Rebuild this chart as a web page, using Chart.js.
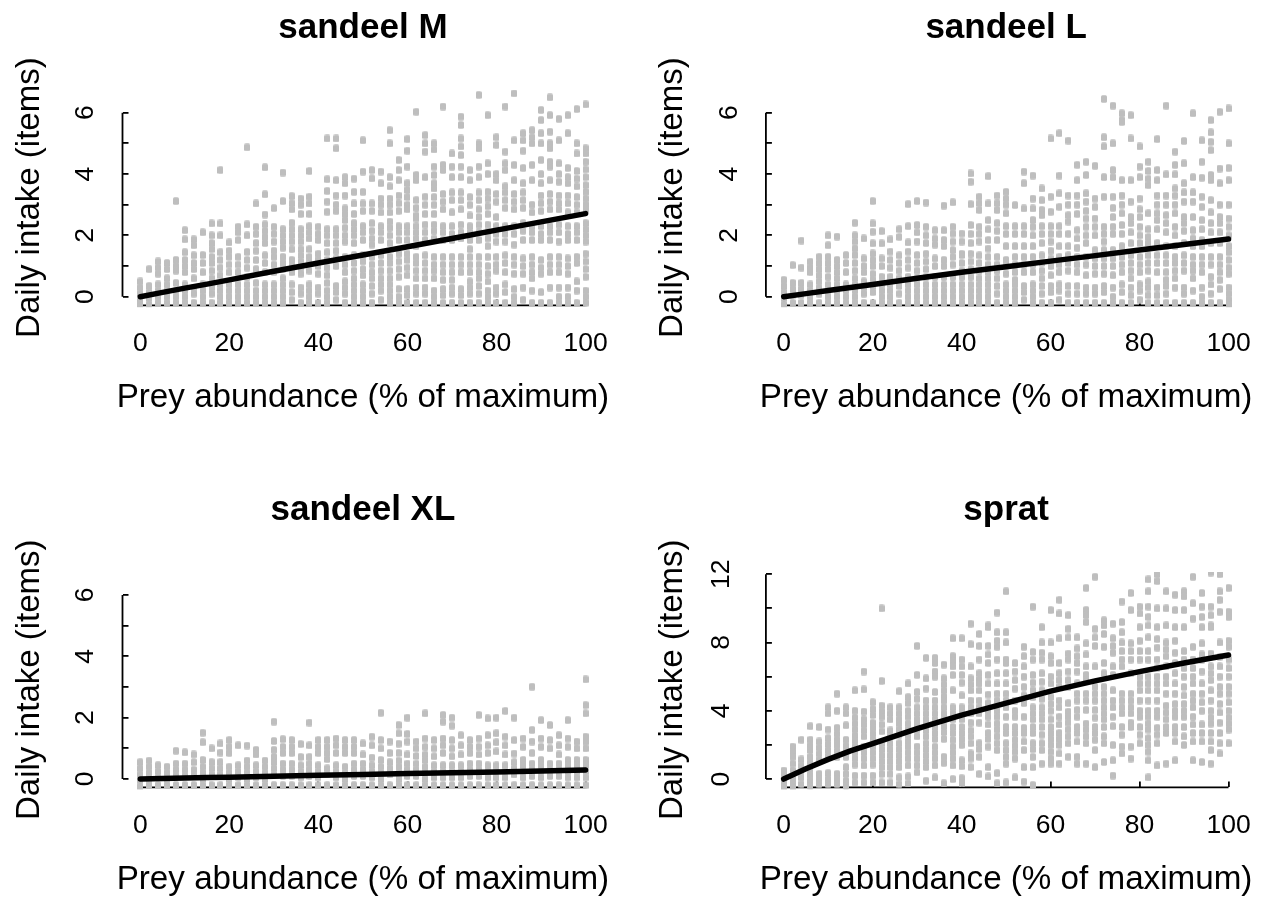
<!DOCTYPE html>
<html><head><meta charset="utf-8">
<style>html,body{margin:0;padding:0;background:#fff;width:1265px;height:897px;overflow:hidden}canvas{position:absolute}</style>
<script src="https://cdn.jsdelivr.net/npm/chart.js@4/dist/chart.umd.min.js"></script>
</head><body>
<canvas id="c0" width="640" height="415" style="left:0;top:0"></canvas>
<canvas id="c1" width="640" height="415" style="left:643px;top:0"></canvas>
<canvas id="c2" width="640" height="415" style="left:0;top:482px"></canvas>
<canvas id="c3" width="640" height="415" style="left:643px;top:482px"></canvas>
<script>
const titles=["sandeel M","sandeel L","sandeel XL","sprat"];
const xLabel="Prey abundance (% of maximum)";
const yLabel="Daily intake (items)";
const xTicks=[0,20,40,60,80,100];
const sandeelTicks=[0,1,2,3,4,5,6];
const sandeelLabels=[0,2,4,6];
const spratTicks=[0,2,4,6,8,10,12];
const spratLabels=[0,4,8,12];
const columnX=[0,2,4,6,8,10,12,14,16,18,20,22,24,26,28,30,32,34,36,38,40,42,44,46,48,50,52,54,56,58,60,62,64,66,68,70,72,74,76,78,80,82,84,86,88,90,92,94,96,98,100];
const curveX=[0,5,10,15,20,30,40,50,60,70,80,90,100];
const curveM=[0,.14,.28,.41,.55,.83,1.1,1.36,1.63,1.9,2.17,2.44,2.71];
const curveL=[0,.1,.2,.3,.4,.6,.8,.98,1.16,1.34,1.52,1.7,1.88];
const curveXL=[0,.015,.03,.045,.06,.09,.12,.15,.18,.2,.23,.26,.29];
const curveSprat=[0,.6,1.15,1.65,2.08,2.95,3.75,4.45,5.15,5.75,6.29,6.8,7.27];
const pointsM=[
[.5,.3,.1,-.1,-.25],[.9,.35,.15,-.05,-.25],[1.15,.95,.75,.4,.2,0,-.2],[1.1,.9,.6,.4,.2,0,-.2],[3.12,1.2,1,.85,.45,.2,0,-.2],
[2.17,1.87,1.45,1.2,1,.8,.4,.2,0,-.2],[1.87,1.68,1.35,1.1,.9,.6,.3,.1,-.2],[2.1,1.36,1.1,.8,.4,.2,0,-.2],[2.39,2,1.75,1.55,1.3,1.1,.85,.6,.3,.1,-.2],[4.13,2.39,2,1.45,1.2,.95,.7,.4,.2,0,-.2],
[1.77,1.5,1.3,1.05,.8,.4,.2,0,-.2],[2.28,2.1,1.85,1.3,1.05,.8,.4,.2,0,-.2],[4.87,2.36,2,1.46,1.2,.95,.65,.4,.2,0,-.2],[3.04,2.28,2.05,1.75,1.5,1.2,.9,.45,.2,0,-.2],[4.22,3.34,2.68,2.36,2.15,1.95,1.75,1.35,1.1,.8,.4,.2,0,-.2],
[2.89,2.28,2.05,1.8,1.5,1.3,1.05,.8,.4,.2,0,-.2],[4.05,3.12,2.2,2,1.8,1.6,1.3,1.1,.9,.6,.4,.2,0,-.2],[3.28,3.05,2.85,2.41,2.2,2,1.8,1.55,1.2,1,.8,.4,.15,-.1],[3.2,3,2.7,2.2,2,1.8,1.55,1.35,1.15,.95,.75,.3,.1,-.2],[4.1,3.26,3.04,2.7,2.3,2.1,1.9,1.55,1.3,1.1,.85,.4,.2,0,-.2],
[2.28,2.05,1.85,1.4,1.2,1,.75,.3,.1,-.2],[5.16,3.83,3.45,3.1,2.77,2.2,2,1.75,1.45,1.2,.95,.7,.45,.2,0,-.2],[5.16,4.84,3.8,3.3,3,2.8,2.2,2,1.75,1.5,1.25,1,.35,.15,-.1],[3.9,3.7,3.3,2.88,2.7,2.5,2.25,2,1.8,1.3,1.05,.8,.5,.3,.1,-.2],[3.85,3.42,3.04,2.7,2.4,2.2,2,1.75,1.35,1.1,.85,.6,.4,.2,0,-.2],
[5.1,4.08,3.42,3.04,2.8,2.3,2.1,1.85,1.35,1.15,.9,.7,.4,.2,0,-.2],[4.13,3.86,3.04,2.8,2.4,2.15,1.9,1.7,1.3,1.05,.8,.6,.35,.1,-.2],[4.08,3.7,3.2,3,2.75,2.3,2.1,1.85,1.35,1.1,.85,.6,.4,.2,-.1],[5.43,5,3.9,3.6,3.2,3,2.75,2.45,2.25,2,1.75,1.3,1.1,.85,.6,.4,.2,0,-.2],[4.46,4.13,3.8,3.3,3.05,2.8,2.3,2.1,1.85,1.4,1.15,.9,.65,.25,0,-.2],
[5.14,4.76,4.24,3.7,3.48,3.25,3,2.85,2.3,2.1,1.85,1.4,1.2,.95,.7,.25,.05,-.2],[6.03,3.97,3.8,3.15,2.9,2.65,2.55,2.3,2.1,1.9,1.65,1.3,1.1,.85,.6,.3,.1,-.2],[5.27,5,4.73,3.9,3.26,3,2.7,2.35,2.1,1.85,1.35,1.1,.85,.6,.3,.1,-.2],[5,4.8,4.24,3.97,3.7,3.53,3.25,3,2.7,2.35,2.15,1.9,1.3,1.05,.85,.6,.2,0,-.2],[6.2,4.3,4.13,3.35,3.1,2.85,2.3,2.1,1.85,1.3,1.05,.8,.55,.25,.05,-.2],
[4.67,4.24,3.9,3.4,3.15,2.75,2.3,2.05,1.85,1.3,1.05,.8,.55,.3,.1,-.2],[5.87,5.6,5.16,4.9,4.62,4.24,3.9,3.4,3.15,2.85,2.35,2.1,1.9,1.3,1.05,.8,.25,.05,-.2],[4.13,3.8,3.25,3,2.65,2.3,2.1,1.85,1.55,1.3,1.05,.8,.5,.3,.1,-.2],[6.58,5,4.84,4.24,3.9,3.4,3.15,2.85,2.6,2.35,2.1,1.85,1.3,1.05,.8,.6,.35,.1,-.2],[5.92,4.35,4,3.42,3.2,2.95,2.7,2.35,2.1,1.9,1.65,1.3,1,.75,.5,.2,0,-.2],
[5.2,4.95,4,3.8,3.35,3.1,2.6,2.3,2.05,1.8,1.3,1.05,.85,.3,.1,-.2],[6.2,4.73,4.35,4.13,3.6,3.4,3.15,2.9,2.3,2.05,1.8,1.35,1.1,.8,.4,.15,-.2],[6.63,5.1,4.3,3.8,3.35,3.1,2.85,2.3,2.05,1.7,1.3,1.05,.75,.25,0,-.2],[5.33,5.1,4.76,4.2,3.7,3.4,3.15,2.9,2.4,2.15,1.85,1.25,1,.75,.3,-.1],[5.43,5.2,5,4.3,3.8,3,2.75,2.3,2.1,1.85,1.3,1.05,.8,.6,.2,-.2],
[6.09,5.76,5.33,5,4.46,4,3.7,3.3,3.05,2.8,2.3,2.05,1.85,1.2,.95,.75,.15,-.2],[6.5,5.92,5.38,5,4.84,4.4,4.24,3.8,3.35,3.1,2.85,2.3,2.1,1.85,1.3,1.05,.8,.3,-.2],[5.8,5.1,4.35,4,3.75,3.3,3.05,2.85,2.35,2.1,1.8,1.3,1.05,.8,.3,0,-.2],[5.92,5.33,4.2,3.9,3.7,3.3,3.05,2.75,2.3,2.05,1.85,1.25,1,.75,.3,0,-.2],[6.12,5,4.67,4.1,3.85,3.6,3.25,3,2.75,2.3,2.1,1.85,1.3,1.1,.5,.2,-.2],
[6.27,4.84,4.67,4.4,4.15,3.9,3.64,3.42,3.2,3,2.83,2.4,2.2,2,1.8,1.4,1.15,.9,.65,.2,0,-.2]];
const pointsL=[
[.55,.35,.15,-.05,-.25],[1.03,.45,.25,.05,-.2],[1.83,.95,.45,.25,.05,-.2],[1.14,.95,.8,.4,.2,0,-.2],[1.3,1.1,.9,.7,.5,.3,.1,-.2],
[2,1.68,1.3,1.1,.9,.65,.4,.2,0,-.2],[1.96,1.2,1,.8,.6,.4,.2,0,-.2],[1.36,1.1,.8,.4,.2,0,-.2],[2.41,2,1.8,1.57,1.36,1.1,.85,.6,.4,.2,0,-.2],[1.9,1.25,1,.8,.5,.3,.1,-.2],
[3.12,2.39,2.12,1.74,1.41,1.2,1,.75,.55,.35,.15,-.2],[2.14,1.74,1.25,1,.65,.4,.2,0,-.2],[1.87,1.47,1.2,.95,.65,.4,.2,0,-.2],[2.2,1.95,1.35,1.1,.85,.6,.35,.1,-.2],[3.02,2.3,1.77,1.47,1.2,.95,.65,.4,.2,0,-.2],
[3.12,2.34,2.1,1.8,1.36,1.1,.85,.6,.4,.2,0,-.2],[3.07,2.28,2,1.75,1.4,1.15,.9,.65,.4,.2,0,-.2],[2.17,1.9,1.7,1.25,1,.65,.4,.2,0,-.2],[2.97,2.17,1.85,1.65,1.2,1,.65,.4,.2,0,-.2],[3.08,2.28,2.06,1.8,1.52,1.3,1.05,.65,.4,.2,0,-.2],
[2.06,1.8,1.4,1.36,1.1,.85,.65,.4,.2,0,-.2],[4.02,3.75,3.02,2.34,2.05,1.75,1.4,1.15,.9,.65,.4,.2,0,-.2],[3.26,3.05,2.83,2.28,2.05,1.8,1.35,1.1,.85,.6,.4,.2,0,-.2],[3.93,3.04,2.5,2.2,1.85,1.57,1.3,1.05,.8,.6,.4,.2,0,-.2],[3.3,3.05,2.83,2.4,2.15,1.85,1.3,1.05,.85,.6,.35,.1,-.2],
[3.42,3.2,3,2.72,2.3,2.05,1.65,1.2,1,.75,.4,.2,0,-.2],[2.99,2.3,2.05,1.65,1.3,1.05,.8,.55,.4,.2,0,-.2],[4.08,3.7,2.88,2.3,2.05,1.65,1.3,1.05,.8,.35,.15,-.1],[3.95,3.2,2.88,2.5,2.28,2,1.65,1.3,1.05,.8,.4,.2,0,-.2],[3.53,3.15,2.83,2.66,2.3,2.05,1.75,1.35,1.1,.85,.6,.35,.1,-.2],
[5.16,3.26,2.77,2.3,2.05,1.8,1.5,1.25,1,.7,.35,.15,-.2],[5.33,3.95,3.37,2.93,2.3,2.05,1.65,1.3,1.05,.8,.4,.2,-.1],[5.09,3.3,3,2.66,2.45,2.05,1.65,1.35,1.1,.85,.35,.1,-.2],[4.3,3.8,3.3,3,2.7,2.17,1.9,1.6,1.3,1.05,.8,.35,.1,-.2],[4.4,3.97,3.37,3.1,2.8,2.55,2.28,2,1.75,1.3,1.05,.7,.3,.1,-.2],
[4.27,3.2,2.93,2.55,2.28,2,1.52,1.25,1,.75,.3,.1,-.2],[6.45,5.2,4.9,3.9,3.26,2.28,2.05,1.8,1.52,1.25,1,.75,.35,.15,-.2],[6.23,5,4.13,3.9,3.26,2.9,2.6,2.28,2.05,1.52,1.25,1,.7,.3,0,-.2],[5.98,5.76,5.7,3.8,3.3,3,2.72,2.34,2.05,1.65,1.3,1.05,.8,.4,.15,-.2],[5.92,5.16,3.8,3.1,2.6,2.4,2.1,1.75,1.35,1.1,.85,.6,.3,.05,-.2],
[4.9,4.24,3.9,3.2,2.85,2.6,2.28,2,1.75,1.3,1.05,.8,.4,.2,-.1],[4.4,4.1,3.85,3.64,2.72,2.2,1.95,1.75,1.35,1.1,.85,.5,.3,.05,-.2],[5.14,4.13,3.8,3.3,3,2.72,2.5,2.2,1.75,1.35,1.1,.8,.3,.05,-.2],[6.23,3.99,3.3,3,2.66,2.4,2.1,1.65,1.35,1.1,.8,.55,.35,.1,-.2],[4.73,4.3,3.99,3.53,3.3,3,2.72,2.28,2,1.65,1.3,1.1,.85,.6,.3,-.2],
[5.08,4.35,3.7,3.4,3.1,2.6,2.4,2.15,1.75,1.35,1.1,.85,.3,.1,-.2],[5.98,3.9,3.4,3.1,2.6,2.17,1.9,1.65,1.3,1.05,.85,.6,.2,-.2],[5.1,4.4,3.88,3.26,2.93,2.5,2.2,1.85,1.65,1.3,1.05,.8,.3,0,-.2],[5.76,5.36,5.05,4.78,3.97,3.8,3.15,2.75,2.4,2.1,1.75,1.3,1.05,.65,.4,.1,-.2],[6.03,4.18,3.7,3,2.6,2.4,2.1,1.75,1.3,1.05,.8,.55,.25,-.2],
[6.14,5,4.2,3.8,3,2.55,2.28,2,1.65,1.45,1.2,.95,.75,.3,.1,-.1,-.25]];
const pointsXL=[
[.55,.35,.15,-.05,-.25],[.6,.4,.2,0,-.2],[.45,.25,.05,-.2],[.4,.2,0,-.2],[.92,.5,.3,.1,-.2],
[.87,.5,.3,.1,-.2],[.8,.55,.3,.1,-.2],[1.51,1.2,.62,.4,.2,0,-.2],[1,.55,.35,.15,-.2],[1.16,.86,.55,.35,.15,-.2],
[1.27,1.05,.85,.4,.2,0,-.2],[1.1,.45,.25,.05,-.2],[1.09,.6,.4,.2,0,-.2],[.95,.8,.45,.25,.05,-.2],[.6,.4,.2,0,-.2],
[1.87,1.24,.95,.72,.55,.35,.15,-.2],[1.3,1.05,.85,.5,.3,.1,-.2],[1.27,1.05,.85,.5,.3,.1,-.2],[1.14,.72,.45,.25,.05,-.2],[1.84,1.1,.72,.5,.3,.1,-.2],
[1.27,1.05,.85,.45,.25,.05,-.2],[1.27,1.05,.85,.65,.35,.15,-.2],[1.32,1.1,.85,.45,.25,.05,-.2],[1.27,1.05,.85,.4,.2,0,-.2],[1.27,1.05,.85,.5,.3,.1,-.2],
[1.16,.8,.5,.3,.1,-.2],[1.38,1.1,.7,.45,.25,.05,-.2],[2.16,1.27,1,.62,.4,.2,0,-.2],[1.22,.85,.55,.35,.15,-.2],[1.76,1.49,1.15,.85,.6,.4,.2,0,-.2],
[2,1.47,1.22,.8,.5,.3,.1,-.2],[1.22,1,.75,.5,.3,.1,-.2],[2.14,1.32,1.05,.8,.62,.4,.2,0,-.2],[1.27,1,.74,.45,.25,.05,-.2],[2.09,1.87,1.32,1.1,.85,.45,.25,.05,-.2],
[2,1.74,1.27,1,.74,.45,.25,.05,-.2],[1.43,1.1,.8,.45,.25,.05,-.2],[1.27,1.05,.85,.5,.3,.1,-.2],[2.09,1.32,1.05,.8,.5,.3,.1,-.2],[1.98,1.43,1.1,.85,.45,.25,.05,-.2],
[2,1.49,1.2,.9,.45,.25,.05,-.2],[2.22,1.38,1.1,.8,.45,.25,.05,-.2],[2,1.27,.83,.55,.35,.15,-.2],[1.32,1.05,.62,.45,.25,.05,-.2],[3.01,1.6,1.22,.85,.5,.3,.1,-.2],
[1.92,1.32,1.05,.62,.45,.25,.05,-.2],[1.76,1.27,1,.5,.3,.1,-.2],[1.43,1.1,.8,.5,.3,.1,-.2],[1.92,1.32,1.05,.62,.45,.25,.05,-.2],[1.22,1,.62,.45,.25,.05,-.2],
[3.25,2.41,2.14,1.38,1.22,1,.62,.45,.25,.05,-.2]];
const pointsSprat=[
[.5,.2,-.15,-.45],[1.9,1.6,1.3,.9,.5,.1,-.2,-.45],[2.3,1.15,.8,.45,.1,-.3],[3.1,2.3,1.95,1.7,1.3,.95,.6,.25,-.1,-.4],[3.05,2.2,1.85,1.5,1.15,.3,0,-.3],
[4.2,3.85,2.9,2.4,2.05,1.7,1.35,.35,0,-.3],[5,4,3,2.65,2.3,2,1.65,1.3,.3,0,-.3],[4.2,3.85,3.15,2.3,1.95,1.6,1.3,.7,.3,-.1,-.4],[5.2,4,3.6,3.25,2.9,2.55,2.25,1.9,1.55,1.2,.85,.2,-.2],[6.3,5.25,3.95,3.5,3.2,2.85,2.5,1.9,1.55,1.2,.8,.2,-.2],
[4.5,4.1,3.75,3.3,3,2.65,2.3,1.9,1.55,1.2,.85,.2,-.2],[10,5.75,4.3,3.95,3.65,3.2,2.8,2.1,1.75,1.4,1.05,.7,.3,-.2],[4.2,3.85,3.5,2.85,2.5,2.1,1.75,1.4,1.05,.7,.3,-.2],[5.15,4.2,3.85,3.5,3.25,2.9,2.6,2.1,1.75,1.4,1.05,.7,.1,-.3],[5.6,4.8,4.45,4,3.65,3.25,2.9,2.55,2.2,1.9,1.55,1.2,.8,.15,-.25],
[7.8,6.1,5.1,4.7,4.2,3.85,3.5,3.25,2.9,2.5,1.9,1.55,1.2,.8,.4],[7.1,5.9,5.3,4.6,4.2,3.85,3.5,3.2,2.85,2.5,2.1,1.75,1.4,1.05,.7,-.1],[7.1,6.8,6.3,6,5.1,4.6,4.2,3.85,3.5,3.05,2.7,2.35,1.9,1.55,1.2,.8,.1],[6.7,5.9,5.55,5.2,4.85,4.6,4.2,3.85,3.5,3.1,2.75,2.35,1.3,.95,-.25],[8.25,7.2,6.9,6.6,6.1,5.2,4.2,3.85,3.5,3.05,2.7,2.3,1.9,1.55,1.2,.8,0],
[8.25,7,6.6,6.1,5.65,4.9,4.2,3.85,3.5,3.05,2.7,2.35,2,1.1,.75,.05,-.25],[9.1,7.9,6.6,5.9,5.55,5.2,4.6,4.2,3.85,3.3,2.85,2.5,2.1,1.5,1.2,.7],[8.5,7.8,7,6.2,5.85,5.6,5.2,4.6,4.2,3.85,3.3,2.1,1.75,1.3,.3],[9,8.9,7.8,7.3,6.8,6.1,5.6,4.95,4.45,4,3.65,3.2,2.7,2.35,1.9,.7,.15],[9.75,8.6,8.1,7.75,7,6.2,5.6,5,4.6,4,3.65,3.25,2.9,2.5,2.1,1.7,.35,-.25],
[11,8.6,8,7,6.8,6.2,5.6,5,4.6,4.2,3.65,3.05,2.7,2.1,1.7,1.3,.9,-.2],[6.8,6.3,5.8,5.3,4.6,4,3.65,3.05,2.7,2.3,1.95,1.6,1.2,.1],[7.75,7.2,6.6,6,5.4,4.9,4.45,3.65,3,2.7,2.2,1.7,.7,-.15],[10.1,7.45,7,6.1,5.65,5.2,4.8,4.2,3.85,3.5,3.05,2.7,2.1,1.75,1.3,.7,-.35],[8.9,8,7.4,7,6.2,5.7,5.2,4.7,4.2,3.85,3.5,3.05,2.6,2.1,1.7,.9],
[9.9,8,7.2,6.8,6,5.6,4.8,4.4,4,3.5,3.05,2.7,2.35,2,1.6,1.2,.9],[10.5,9.7,8.25,6.8,6.2,5.8,5.4,4.6,4.2,3.65,3.2,2.7,2.35,2,1.5,.9],[9.6,8.8,8.3,7.35,7,6.3,5.8,5.4,4.45,3.95,3.65,3.3,2.9,2.5,2.1,1.3],[8.3,7.65,7.2,6.8,6.3,5.6,5,4.6,4.05,3.65,3.05,2.7,2.2,1.3,.9],[11.2,9.9,9.6,9.2,7.95,7.3,6.6,6.1,5.8,5,4.6,4.05,3.25,2.9,2.5,2.1,.9],
[11.85,8.8,8.3,7.8,6.6,5.4,5,4.6,4.05,3.6,3.05,2.7,2.3,1.7,.7],[9.3,9,8.5,7.75,6.8,6.2,5.4,5,4.6,4.2,3.85,3.5,3.05,2.5,2.1,1],[9.1,8.25,7.8,7.4,6.6,6.1,5.2,4.6,4.2,3.65,3.1,2,1.1,.2],[10.4,9.2,8.6,8,7.5,7,6.6,5,4.6,4.2,3.85,3.05,2.6,1.9,1.5],[10.9,9.9,7.95,7.5,7,6.2,5,4.6,4.2,3.85,3.3,3.05,1.9,1.2],
[10.1,9.7,8.9,8.1,7.5,7,6,5.6,5.2,4.6,4,3.65,3.05,2.6,2.1],[11.7,11,10.1,9.5,9,8.3,7.5,7,6,5.6,5.2,4.6,4,3.65,3.25,2.9,2.4,2,1.6,1.1,.1],[12,11.6,10,8.9,8.2,7.7,7,6.5,6,5.6,5.2,4.6,4,3.65,3,2.6,2.1,.8],[11,10,9,8,7.6,7.2,6.6,6,5.6,5,4.3,3.9,3.5,3.05,2.7,.9],[10.8,9.9,8.9,8.1,7.4,6.8,6.2,5.6,5,4.4,4,3.65,3.05,2.7,2.2,1.1],
[11,10.7,9.9,8.9,7.5,7,6.5,6,5.4,4.9,4.4,4,3.65,3.05,2.5,2],[11.85,10.3,9.4,7.75,7,6.5,6,5.6,5,4.6,4.2,3.65,3.2,2.7,2.2,1.1],[10.9,10.1,9.5,8.9,7.95,7.3,7,6.3,5.6,5,4.5,4,3.2,2.7,2.2,1],[12.1,10.1,9.6,9,8.9,7.35,6.6,6.2,5.8,5.2,4.6,4,3.6,3.25,2.7,2.2,1.7,.9],[12,11,10.5,9.8,8,7.15,6.6,6,5.4,5,4.4,3.9,3.3,2.7,2.1,1.5],
[11.2,9.8,9.5,8.1,7.75,7,6.5,6,5.4,5,4.5,4,3.6,3.25,2.9,2.1]];
const curves=[curveM,curveL,curveXL,curveSprat];
const pointSets=[pointsM,pointsL,pointsXL,pointsSprat];
const yTickSets=[sandeelTicks,sandeelTicks,sandeelTicks,spratTicks];
const yLabelSets=[sandeelLabels,sandeelLabels,sandeelLabels,spratLabels];
const yRanges=[[-.28,6.74],[-.28,6.74],[-.274,6.75],[-.49,12.13]];
const GRAY="#bebebe",FONT="'Liberation Sans', Arial, sans-serif";
const marker=document.createElement("canvas");marker.width=6;marker.height=8;
{const m=marker.getContext("2d");m.fillStyle=GRAY;m.beginPath();m.roundRect(0,.25,6,7.5,1.6);m.fill();}
const axisLines={id:"axisLines",beforeDatasetsDraw(ch){
 const c=ch.ctx,xs=ch.scales.x,ys=ch.scales.y,a=ch.chartArea,ty=yTickSets[ch.options.panel];
 c.save();c.strokeStyle="#000";c.lineWidth=1.8;c.beginPath();
 c.moveTo(xs.getPixelForValue(xTicks[0]),a.bottom);c.lineTo(xs.getPixelForValue(xTicks[xTicks.length-1]),a.bottom);
 c.moveTo(a.left,ys.getPixelForValue(ty[0]));c.lineTo(a.left,ys.getPixelForValue(ty[ty.length-1]));
 c.stroke();c.restore();}};
const layouts=[[122.5,29,90,305.3],[122.9,30,90,305.3],[122.5,29,90,305.4],[122.9,30,90,305.4]];
function widenXTitle(s){
 if(s.drawTitle!==Chart.Scale.prototype.drawTitle)return;
 s.drawTitle=function(){const l=this.left,r=this.right;this.left=l-15;this.right=r+15;
  Chart.Scale.prototype.drawTitle.call(this);this.left=l;this.right=r;};
}
titles.forEach((t,i)=>{
 const L=layouts[i],H=415;
 new Chart(document.getElementById("c"+i),{type:"scatter",plugins:[axisLines],
 data:{datasets:[
  {data:curveX.map((x,k)=>({x,y:curves[i][k]})),showLine:true,pointRadius:0,borderColor:"#000",borderWidth:5.5,borderCapStyle:"round",borderJoinStyle:"round",clip:false,order:0},
  {data:pointSets[i].flatMap((ys,k)=>ys.map(y=>({x:columnX[k],y}))),showLine:false,pointStyle:marker,pointRadius:3,pointBorderWidth:0,clip:{left:false,right:false,top:0,bottom:2},order:1}
 ]},
 options:{panel:i,responsive:false,animation:false,events:[],
  layout:{padding:{left:0,right:L[1],top:0,bottom:0}},
  plugins:{legend:{display:false},tooltip:{enabled:false},
   title:{display:true,text:t,fullSize:false,color:"#000",font:{family:FONT,size:35,weight:"bold",lineHeight:1},padding:{top:11,bottom:44}}},
  scales:{
   x:{type:"linear",min:-4,max:104,border:{display:false},
    afterBuildTicks(s){s.ticks=xTicks.map(v=>({value:v}));},
    afterFit(s){s.height=H-L[3];widenXTitle(s);},
    grid:{drawOnChartArea:false,drawTicks:true,tickLength:-6,color:"#000",lineWidth:1.8},
    ticks:{autoSkip:false,maxRotation:0,color:"#000",padding:31,font:{family:FONT,size:26.5,lineHeight:1}},
    title:{display:true,text:xLabel,color:"#000",font:{family:FONT,size:33.2,lineHeight:1},padding:{top:0,bottom:.5}}},
   y:{type:"linear",min:yRanges[i][0],max:yRanges[i][1],border:{display:false},
    afterBuildTicks(s){s.ticks=yTickSets[i].map(v=>({value:v}));},
    afterFit(s){s.width=L[0];},
    grid:{drawOnChartArea:false,drawTicks:true,tickLength:-6,color:"#000",lineWidth:1.8},
    ticks:{autoSkip:false,minRotation:90,maxRotation:90,crossAlign:"center",color:"#000",padding:35,font:{family:FONT,size:26.5,lineHeight:1},
     callback(v){return yLabelSets[i].includes(v)?String(v):"";}},
    title:{display:true,text:yLabel,color:"#000",font:{family:FONT,size:33,lineHeight:1},padding:{top:13.5,bottom:0}}}
  }}});
});
</script>
</body></html>
